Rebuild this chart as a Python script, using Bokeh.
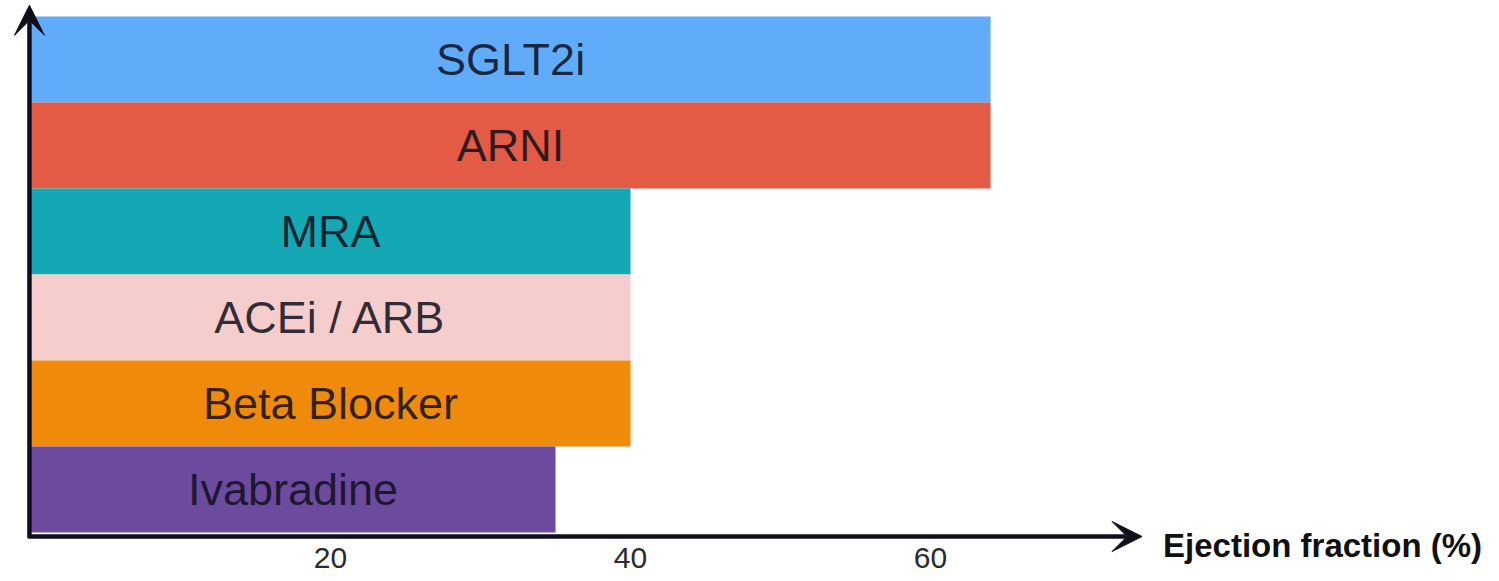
from bokeh.plotting import figure
from bokeh.models import (Range1d, LinearAxis, FixedTicker, Arrow, VeeHead,
                          Label, ColumnDataSource)
from bokeh.core.properties import value
from bokeh.embed import file_html
from bokeh.resources import INLINE

# Heart-failure therapies and the upper ejection-fraction bound of each indication
therapies = ["SGLT2i", "ARNI", "MRA", "ACEi / ARB", "Beta Blocker", "Ivabradine"]
ef_upper = [64, 64, 40, 40, 40, 35]
bar_colors = ["#60acfa", "#e35a45", "#13a8b4", "#f5cdcc", "#ef8a0b", "#6c4a9d"]
tick_values = [20, 40, 60]
axis_title = "Ejection fraction (%)"

FONT = "Liberation Sans"
INK = "#0f0f1c"

n = len(therapies)
rows = [n - 1 - i + 0.5 for i in range(n)]          # first therapy on top
mids = [v / 2 for v in ef_upper]
src = ColumnDataSource(dict(name=therapies, ef=ef_upper, y=rows,
                            mid=mids, color=bar_colors))

p = figure(width=1499, height=581, frame_width=1499, frame_height=575,
           output_backend="svg", toolbar_location=None,
           x_range=Range1d(-2, 97.93), y_range=Range1d(-0.5, 6.186),
           x_axis_type=None, y_axis_type=None, min_border=0)
p.outline_line_color = None
p.background_fill_color = "white"
p.border_fill_color = "white"

# bars from EF = 0 up to each therapy's bound
p.hbar(y="y", left=0, right="ef", height=1.0, source=src,
       fill_color="color", line_color=None)

p.text(x="mid", y="y", text="name", source=src,
       text_align="center", text_baseline="middle",
       text_font=value(FONT), text_font_size="45px",
       text_color=INK, text_alpha=0.85)

# x axis: tick labels only, the line itself is an arrow
xaxis = LinearAxis(ticker=FixedTicker(ticks=tick_values))
xaxis.axis_line_color = None
xaxis.major_tick_line_color = None
xaxis.minor_tick_line_color = None
xaxis.major_tick_out = 0
xaxis.major_tick_in = 0
xaxis.major_label_text_font = FONT
xaxis.major_label_text_font_size = "30px"
xaxis.major_label_text_color = "#2b2b2b"
xaxis.major_label_standoff = -28
p.add_layout(xaxis, "below")

axis_y = -0.047
head_kw = dict(size=30, fill_color=INK, line_color=INK, line_width=1)
p.add_layout(Arrow(x_start=-0.13, y_start=axis_y, x_end=74.1, y_end=axis_y,
                   line_color=INK, line_width=4.5, end=VeeHead(**head_kw)))
p.add_layout(Arrow(x_start=-0.07, y_start=axis_y - 0.02, x_end=-0.07, y_end=6.13,
                   line_color=INK, line_width=4.5, end=VeeHead(**head_kw)))

p.add_layout(Label(x=75.5, y=axis_y - 0.1, text=axis_title,
                   text_font=FONT, text_font_size="33px", text_font_style="bold",
                   text_color="#111111", text_baseline="middle"))

open("out.html", "w").write(file_html(p, INLINE))
